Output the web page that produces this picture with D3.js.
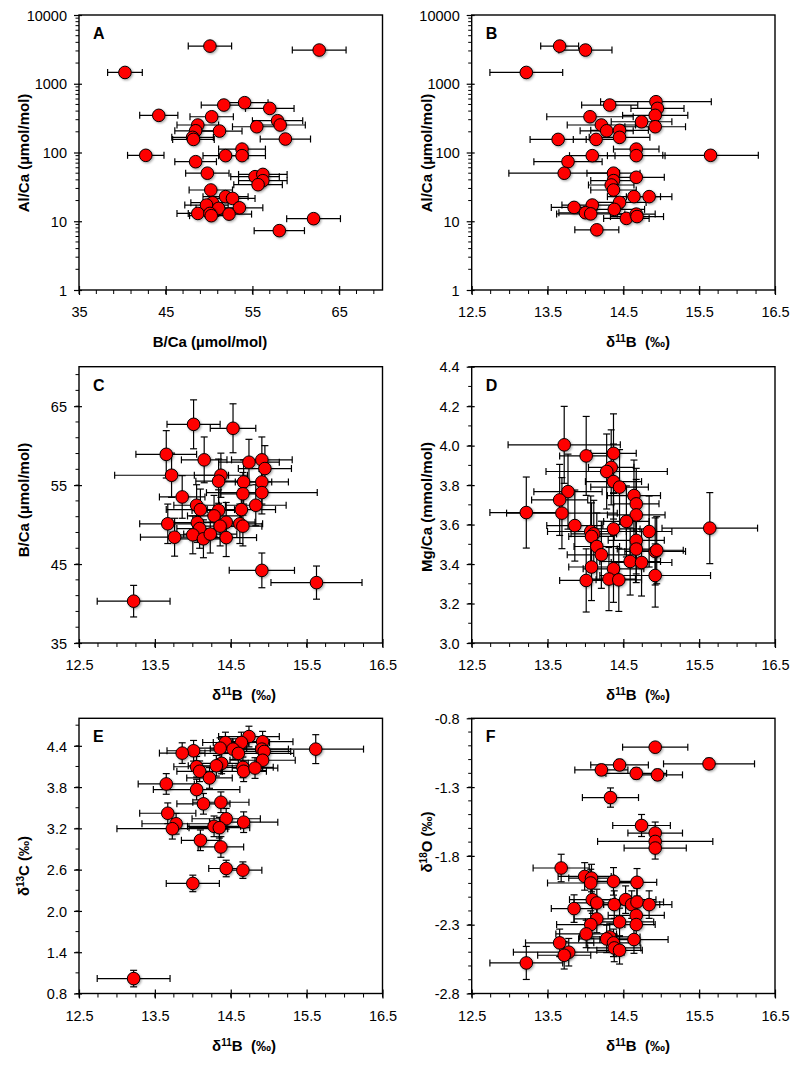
<!DOCTYPE html>
<html><head><meta charset="utf-8">
<script src="https://cdn.jsdelivr.net/npm/d3@7"></script>
<style>body{margin:0;background:#fff}text{font-family:"Liberation Sans",Arial,sans-serif;fill:#000}</style>
</head><body><svg id="c" width="800" height="1067"></svg>
<script>
// ---- DATA ----
// Panel A: [B/Ca, Al/Ca, B/Ca err]
const aPoints = [[50.1,3530,2.5],[62.7,3090,3.1],[40.3,1460,2.0],[54.1,530,2.7],[51.7,490,2.6],[57.0,438,2.8],[44.2,347,2.2],[50.3,331,2.5],[57.9,290,2.9],[58.2,251,2.9],[48.7,251,2.4],[55.5,237,2.8],[48.45,207,2.4],[51.2,205,2.6],[48.1,166,2.4],[48.2,155,2.4],[58.8,157,2.9],[53.8,112,2.7],[42.7,91,2.1],[51.9,90,2.6],[53.8,90,2.7],[48.45,73.5,2.4],[49.8,50,2.5],[55.3,44.5,2.8],[56.2,48,2.8],[56.2,38.9,2.8],[55.65,34,2.8],[50.2,28.5,2.5],[51.9,22.8,2.6],[52.7,21.5,2.6],[50.4,18.6,2.5],[49.7,17.2,2.5],[51.1,15.4,2.6],[53.5,15.7,2.7],[48.7,13,2.4],[50.1,13,2.5],[50.25,12.05,2.5],[52.3,12.7,2.6],[62.05,10.9,3.1],[58.1,7.3,2.9]];
// Panel B: [d11B, Al/Ca, d11B err]
const bPoints = [[13.66,3530,0.25],[14.00,3090,0.35],[13.22,1460,0.48],[14.93,548,0.73],[14.32,490,0.37],[14.95,438,0.35],[14.06,331,0.57],[14.92,347,0.43],[14.74,280,0.40],[14.21,251,0.45],[14.92,237,0.40],[14.28,207,0.35],[14.45,210,0.38],[14.45,166,0.40],[13.64,155,0.37],[14.14,155,0.30],[14.67,112,0.30],[14.09,90,0.30],[14.67,90,0.38],[15.65,91,0.63],[13.77,73.5,0.45],[13.72,50,0.73],[14.37,50,0.35],[14.67,43.6,0.37],[14.37,39,0.30],[14.34,33.7,0.30],[14.37,28.5,0.30],[14.64,22.8,0.35],[14.84,22.8,0.30],[14.45,18.8,0.35],[13.85,15.9,0.30],[14.09,17.2,0.40],[14.38,14.9,0.40],[14.00,13.3,0.35],[14.07,12.8,0.45],[14.54,11.0,0.30],[14.67,12.7,0.25],[14.68,11.7,0.35],[14.15,7.5,0.29]];
// Panel C: [d11B, B/Ca, d11B err, B/Ca err]
const cPoints = [[14.01,62.7,0.35,3.1],[14.53,62.2,0.30,3.1],[13.65,58.9,0.40,3.0],[14.15,58.2,0.30,2.9],[14.74,57.9,0.40,2.9],[14.91,58.2,0.40,2.9],[14.95,57.1,0.35,2.9],[13.72,56.25,0.75,2.8],[14.37,56.25,0.35,2.8],[14.34,55.5,0.30,2.8],[14.67,55.4,0.37,2.8],[14.91,55.4,0.35,2.8],[14.66,53.9,0.30,2.7],[14.91,54.05,0.73,2.7],[13.86,53.5,0.30,2.7],[14.05,52.45,0.30,2.6],[14.10,51.9,0.45,2.6],[14.34,51.8,0.35,2.6],[14.64,51.9,0.45,2.6],[14.83,52.45,0.40,2.6],[14.28,51.1,0.35,2.6],[13.67,50.1,0.37,2.5],[14.06,50.25,0.35,2.5],[14.44,50.3,0.38,2.5],[14.36,49.8,0.30,2.5],[14.62,50.1,0.30,2.5],[14.66,49.8,0.25,2.5],[14.09,49.5,0.30,2.5],[13.76,48.4,0.45,2.4],[14.00,48.7,0.30,2.4],[14.14,48.2,0.35,2.4],[14.23,48.8,0.35,2.4],[14.44,48.35,0.40,2.4],[14.91,44.2,0.43,2.2],[15.63,42.65,0.60,2.1],[13.22,40.3,0.48,2.0]];
// Panel D: [d11B, Mg/Ca, d11B err, Mg/Ca err]
const dPoints = [[13.72,4.004,0.74,0.195],[14.01,3.948,0.35,0.20],[14.37,3.961,0.30,0.20],[14.34,3.89,0.30,0.19],[14.28,3.869,0.80,0.19],[14.37,3.818,0.37,0.19],[14.45,3.79,0.38,0.19],[13.77,3.767,0.45,0.19],[13.66,3.725,0.37,0.18],[14.64,3.747,0.35,0.18],[14.67,3.705,0.30,0.18],[13.22,3.661,0.48,0.18],[13.69,3.658,0.73,0.18],[14.67,3.649,0.38,0.18],[14.54,3.616,0.30,0.18],[13.86,3.595,0.37,0.18],[14.37,3.578,0.35,0.18],[14.84,3.565,0.30,0.18],[15.64,3.582,0.63,0.18],[14.07,3.565,0.57,0.18],[14.11,3.553,0.30,0.17],[14.08,3.54,0.30,0.17],[14.15,3.489,0.30,0.17],[14.67,3.52,0.37,0.17],[14.21,3.447,0.45,0.17],[14.67,3.476,0.25,0.17],[14.92,3.464,0.40,0.17],[14.94,3.47,0.35,0.17],[14.59,3.413,0.40,0.17],[14.74,3.408,0.40,0.17],[14.08,3.385,0.30,0.17],[14.37,3.376,0.40,0.17],[14.01,3.317,0.35,0.16],[14.31,3.324,0.35,0.16],[14.44,3.32,0.30,0.16],[14.92,3.342,0.73,0.16]];
// Panel E: [d11B, d13C, d11B err, d13C err]
const ePoints = [[14.74,4.535,0.40,0.15],[14.43,4.448,0.30,0.15],[14.64,4.448,0.37,0.15],[14.92,4.46,0.40,0.15],[14.36,4.366,0.35,0.15],[14.53,4.352,0.30,0.15],[14.91,4.352,0.35,0.15],[14.94,4.318,0.35,0.15],[15.62,4.352,0.63,0.21],[14.01,4.328,0.35,0.15],[13.86,4.294,0.30,0.15],[14.60,4.29,0.73,0.15],[14.38,4.145,0.35,0.15],[14.31,4.11,0.37,0.15],[14.92,4.19,0.43,0.15],[14.05,4.096,0.30,0.15],[14.09,4.03,0.30,0.15],[14.66,4.087,0.40,0.15],[14.67,4.03,0.30,0.15],[14.82,4.077,0.30,0.15],[14.22,3.933,0.30,0.15],[13.65,3.846,0.37,0.15],[14.05,3.764,0.57,0.15],[14.14,3.557,0.35,0.15],[14.37,3.58,0.37,0.15],[13.67,3.42,0.37,0.15],[13.78,3.267,0.45,0.15],[13.73,3.195,0.73,0.15],[14.44,3.34,0.45,0.15],[14.67,3.29,0.45,0.15],[14.28,3.23,0.35,0.15],[14.35,3.21,0.40,0.15],[14.10,3.027,0.25,0.15],[14.37,2.93,0.30,0.15],[14.44,2.617,0.23,0.12],[14.66,2.593,0.25,0.12],[14.00,2.40,0.35,0.12],[13.22,1.017,0.48,0.12]];
// Panel F: [d11B, d18O, d11B err, d18O err]
const fPoints = [[14.92,-1.01,0.43,0.03],[14.45,-1.139,0.38,0.04],[15.63,-1.131,0.60,0.04],[14.21,-1.175,0.35,0.04],[14.67,-1.20,0.40,0.04],[14.95,-1.211,0.33,0.04],[14.33,-1.376,0.37,0.07],[14.74,-1.579,0.38,0.08],[14.92,-1.634,0.36,0.08],[14.92,-1.695,0.76,0.08],[14.92,-1.743,0.41,0.08],[13.68,-1.888,0.37,0.10],[13.99,-1.949,0.35,0.10],[14.08,-1.961,0.30,0.10],[14.07,-1.997,0.57,0.10],[14.37,-1.985,0.35,0.10],[14.68,-1.992,0.26,0.10],[14.09,-2.118,0.30,0.10],[14.15,-2.142,0.30,0.10],[14.38,-2.154,0.30,0.10],[14.53,-2.118,0.40,0.10],[14.61,-2.154,0.37,0.10],[14.68,-2.135,0.35,0.10],[14.84,-2.154,0.30,0.10],[13.85,-2.183,0.30,0.10],[14.67,-2.232,0.37,0.10],[14.15,-2.258,0.30,0.10],[14.45,-2.28,0.45,0.10],[14.07,-2.299,0.45,0.10],[14.67,-2.299,0.25,0.10],[14.01,-2.367,0.40,0.10],[14.32,-2.389,0.40,0.10],[14.28,-2.403,0.37,0.10],[14.37,-2.432,0.35,0.10],[14.64,-2.408,0.45,0.10],[13.66,-2.432,0.45,0.10],[14.38,-2.469,0.35,0.10],[14.45,-2.486,0.30,0.10],[13.78,-2.50,0.73,0.10],[13.72,-2.522,0.35,0.10],[13.22,-2.578,0.48,0.12]];

const xTicksBCa = [35,45,55,65];
const xTicksD11B = [12.5,13.5,14.5,15.5,16.5];
const yTicksAlCa = [1,10,100,1000,10000];
const yTicksBCa = [35,45,55,65];
const yTicksMgCa = [3.0,3.2,3.4,3.6,3.8,4.0,4.2,4.4];
const yTicksD13C = [0.8,1.4,2.0,2.6,3.2,3.8,4.4];
const yTicksD18O = [-2.8,-2.3,-1.8,-1.3,-0.8];
const panelLetters = ["A","B","C","D","E","F"];

// ---- LAYOUT ----
const svg = d3.select("#c");
const defs = svg.append("defs");
const f = defs.append("filter").attr("id","sh").attr("x","-50%").attr("y","-50%").attr("width","200%").attr("height","200%");
f.append("feDropShadow").attr("dx",1.2).attr("dy",1.2).attr("stdDeviation",0.9).attr("flood-color","#000").attr("flood-opacity",0.35);

const colX = [[79,382.5],[471.7,775]];
const rowY = [[15,290],[366.7,643],[718.3,993.5]];

const fmt1 = d => d.toFixed(1);
const panels = [
 {pts:aPoints, col:0,row:0, xd:[35,70], yd:[1,10000], log:true, xt:xTicksBCa, xminor:2, yt:yTicksAlCa, yfmt:d=>String(d), xfmt:d=>String(d), yerr:false,
  xtitle:"bca", xtc:210, ytitle:"Al/Ca (µmol/mol)", ytc:153},
 {pts:bPoints, col:1,row:0, xd:[12.5,16.5], yd:[1,10000], log:true, xt:xTicksD11B, xminor:0.25, yt:yTicksAlCa, yfmt:d=>String(d), xfmt:fmt1, yerr:false,
  xtitle:"d11b", xtc:638, ytitle:"Al/Ca (µmol/mol)", ytc:153},
 {pts:cPoints, col:0,row:1, xd:[12.5,16.5], yd:[35,70], xt:xTicksD11B, xminor:0.25, yt:yTicksBCa, yminor:2, yfmt:d=>String(d), xfmt:fmt1, yerr:true,
  xtitle:"d11b", xtc:244, ytitle:"B/Ca (µmol/mol)", ytc:500},
 {pts:dPoints, col:1,row:1, xd:[12.5,16.5], yd:[3.0,4.4], xt:xTicksD11B, xminor:0.25, yt:yTicksMgCa, yminor:0.1, yfmt:fmt1, xfmt:fmt1, yerr:true,
  xtitle:"d11b", xtc:638, ytitle:"Mg/Ca (mmol/mol)", ytc:507},
 {pts:ePoints, col:0,row:2, xd:[12.5,16.5], yd:[0.8,4.8], xt:xTicksD11B, xminor:0.25, yt:yTicksD13C, yminor:0.3, yfmt:fmt1, xfmt:fmt1, yerr:true,
  xtitle:"d11b", xtc:244, ytitle:"d13c", ytc:866},
 {pts:fPoints, col:1,row:2, xd:[12.5,16.5], yd:[-2.8,-0.8], xt:xTicksD11B, xminor:0.25, yt:yTicksD18O, yminor:0.1, yfmt:fmt1, xfmt:fmt1, yerr:true,
  xtitle:"d11b", xtc:638, ytitle:"d18o", ytc:842}
];

function deltaLabel(sel, sup, letter, unit){
  sel.append("tspan").text("δ");
  sel.append("tspan").attr("font-size","10px").attr("dy",-5).text(sup);
  sel.append("tspan").attr("dy",5).text(letter + unit);
}

panels.forEach((p,i)=>{
  const [x0,x1] = colX[p.col], [y0,y1] = rowY[p.row];
  const x = d3.scaleLinear().domain(p.xd).range([x0,x1]);
  const y = (p.log ? d3.scaleLog() : d3.scaleLinear()).domain(p.yd).range([y1,y0]);
  const g = svg.append("g");

  // minor ticks
  const eps = 1e-9;
  const xMinor = d3.range(p.xd[0], p.xd[1]+eps, p.xminor);
  g.selectAll(".xm").data(xMinor).join("line")
    .attr("x1",d=>x(d)).attr("x2",d=>x(d)).attr("y1",y1).attr("y2",y1+4)
    .attr("stroke","#000").attr("stroke-width",1);
  let yMinor;
  if (p.log) { yMinor = []; for (let e=0;e<4;e++) for (let k=2;k<10;k++) yMinor.push(k*Math.pow(10,e)); }
  else yMinor = d3.range(p.yd[0], p.yd[1]+eps, p.yminor);
  g.selectAll(".ym").data(yMinor).join("line")
    .attr("x1",x0-3.5).attr("x2",x0).attr("y1",d=>y(d)).attr("y2",d=>y(d))
    .attr("stroke","#000").attr("stroke-width",1);

  // major ticks via axis generators
  const xAxis = d3.axisBottom(x).tickValues(p.xt).tickSize(5).tickFormat(p.xfmt).tickSizeOuter(0);
  const ax = g.append("g").attr("transform",`translate(0,${y1})`).call(xAxis);
  ax.select(".domain").remove();
  ax.selectAll(".tick line").attr("y1",-4).attr("y2",5).attr("stroke-width",1.2);
  ax.selectAll(".tick text").attr("y",27).attr("dy",0).attr("font-size","14.5px").attr("font-family","Liberation Sans, Arial, sans-serif");

  const yAxis = d3.axisLeft(y).tickValues(p.yt).tickSize(5).tickFormat(p.yfmt).tickSizeOuter(0);
  const ay = g.append("g").attr("transform",`translate(${x0},0)`).call(yAxis);
  ay.select(".domain").remove();
  ay.selectAll(".tick line").attr("x1",-5).attr("x2",3).attr("stroke-width",1.2);
  ay.selectAll(".tick text").attr("x",-12).attr("dy","0.36em").attr("font-size","14.5px").attr("font-family","Liberation Sans, Arial, sans-serif");

  // frame
  g.append("rect").attr("x",x0).attr("y",y0).attr("width",x1-x0).attr("height",y1-y0)
    .attr("fill","none").attr("stroke","#000").attr("stroke-width",1.4);

  // error bars
  const eb = g.append("g").attr("stroke","#000").attr("stroke-width",1.2).attr("fill","none");
  const cap = 3.5;
  p.pts.forEach(d=>{
    const cx = x(d[0]), cy = y(d[1]);
    const xl = x(Math.max(p.xd[0], d[0]-d[2])), xr = x(Math.min(p.xd[1], d[0]+d[2]));
    eb.append("line").attr("x1",xl).attr("x2",xr).attr("y1",cy).attr("y2",cy);
    if (d[0]-d[2] > p.xd[0]) eb.append("line").attr("x1",xl).attr("x2",xl).attr("y1",cy-cap).attr("y2",cy+cap);
    if (d[0]+d[2] < p.xd[1]) eb.append("line").attr("x1",xr).attr("x2",xr).attr("y1",cy-cap).attr("y2",cy+cap);
    if (p.yerr) {
      const yt = y(d[1]+d[3]), yb = y(d[1]-d[3]);
      eb.append("line").attr("x1",cx).attr("x2",cx).attr("y1",yt).attr("y2",yb);
      eb.append("line").attr("x1",cx-cap).attr("x2",cx+cap).attr("y1",yt).attr("y2",yt);
      eb.append("line").attr("x1",cx-cap).attr("x2",cx+cap).attr("y1",yb).attr("y2",yb);
    }
  });

  // markers
  g.append("g").selectAll("circle").data(p.pts).join("circle")
    .attr("cx",d=>x(d[0])).attr("cy",d=>y(d[1])).attr("r",6.3)
    .attr("fill","#ff0000").attr("stroke","#000").attr("stroke-width",1)
    .attr("filter","url(#sh)");

  // panel letter
  g.append("text").attr("x",x0+14).attr("y",y0+24).attr("font-size","16px").attr("font-weight","bold").text(panelLetters[i]);

  // x title
  const xt = g.append("text").attr("x",p.xtc).attr("y",y1+57).attr("text-anchor","middle")
    .attr("font-size","15px").attr("font-weight","bold");
  if (p.xtitle==="bca") xt.text("B/Ca (µmol/mol)");
  else deltaLabel(xt, "11", "B", "\u00a0\u00a0(‰)");

  // y title
  const ytx = p.col===0 ? 29 : 432;
  const yt = g.append("text").attr("transform",`translate(${ytx},${p.ytc}) rotate(-90)`).attr("text-anchor","middle")
    .attr("font-size","15px").attr("font-weight","bold");
  if (p.ytitle==="d13c") deltaLabel(yt, "13", "C", " (‰)");
  else if (p.ytitle==="d18o") deltaLabel(yt, "18", "O", " (‰)");
  else yt.text(p.ytitle);
});
</script></body></html>
